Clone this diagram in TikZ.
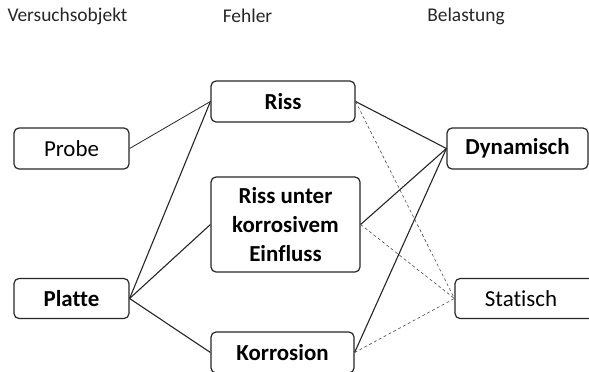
\documentclass[tikz,border=0pt]{standalone}
\usepackage{fontspec}
\setmainfont{Carlito}[Ligatures=NoCommon]
\begin{document}
\begin{tikzpicture}[x=1bp,y=-1bp,
  box/.style={draw=black!85, line width=1.2bp, rounded corners=5bp, inner sep=0pt, align=center, font=\fontsize{23}{29}\selectfont},
  hdr/.style={inner sep=0pt, font=\fontsize{19.5}{23}\selectfont, text=black!85},
  con/.style={line width=1.1bp, black!85},
  dcon/.style={line width=0.6bp, black!70, dash pattern=on 3bp off 2.5bp}]
\useasboundingbox (0,0) rectangle (589,371);
\node[hdr] (h1) at (67.5,16) {Versuchsobjekt};
\node[hdr] (h2) at (247.5,16) {Fehler};
\node[hdr] (h3) at (466,16) {Belastung};
\node[box, minimum width=115bp, minimum height=41bp] (probe) at (71.5,148.5) {Probe};
\node[box, minimum width=115bp, minimum height=40bp] (platte) at (71.5,298.5) {\bfseries Platte};
\node[box, minimum width=144bp, minimum height=41bp] (riss) at (283,101.5) {\bfseries Riss};
\node[box, minimum width=149bp, minimum height=95bp] (rissk) at (285.5,224.5) {\bfseries Riss unter\\\bfseries korrosivem\\\bfseries Einfluss};
\node[box, minimum width=143bp, minimum height=41bp] (korr) at (282.5,352.5) {\bfseries Korrosion};
\node[box, minimum width=141bp, minimum height=41bp] (dyn) at (517.5,148.5) {\bfseries Dynamisch};
\node[box, minimum width=141bp, minimum height=40bp] (stat) at (525.5,298.5) {\hspace*{-9bp}Statisch};
\draw[con, line width=0.8bp] (probe.east) -- (riss.west);
\draw[con] (platte.east) -- (riss.west);
\draw[con] (platte.east) -- (rissk.west);
\draw[con] (platte.east) -- (korr.west);
\draw[con] (riss.east) -- (dyn.west);
\draw[con] (rissk.east) -- (dyn.west);
\draw[con] (korr.east) -- (dyn.west);
\draw[dcon] (riss.east) -- (stat.west);
\draw[dcon] (rissk.east) -- (stat.west);
\draw[dcon] (korr.east) -- (stat.west);
\end{tikzpicture}
\end{document}
